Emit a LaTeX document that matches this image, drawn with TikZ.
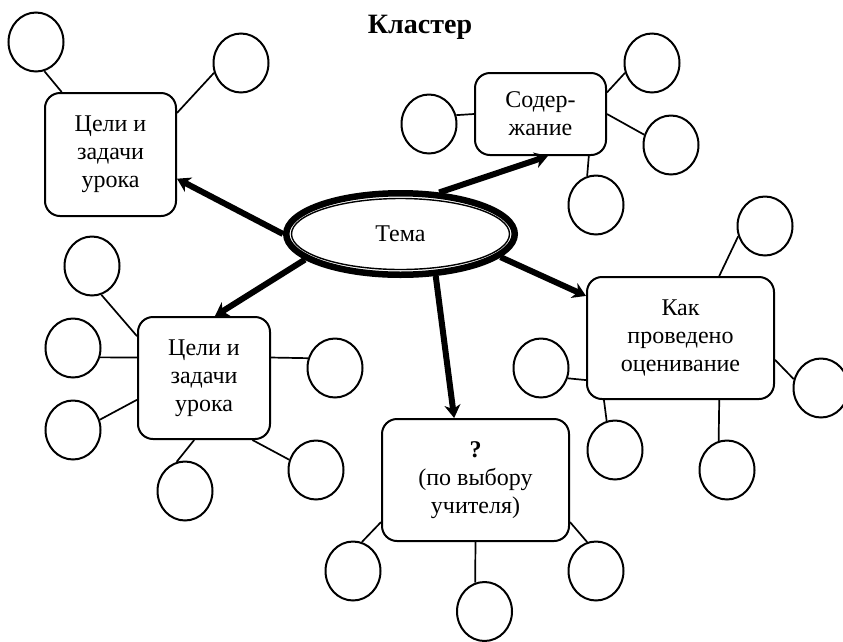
\documentclass[tikz,border=0pt]{standalone}
\usepackage{fontspec}
\setmainfont{Liberation Serif}
\usepackage{tikz}
\tikzset{box/.style={draw, line width=2pt, rounded corners=15pt, align=center, inner sep=0pt,
   font=\fontsize{24}{28}\selectfont},
 bubble/.style={draw, ellipse, line width=2pt, minimum width=55pt, minimum height=59pt, inner sep=0pt},
 link/.style={line width=1.7pt},
 arr/.style={line width=6pt, -{Stealth[length=13pt,width=16pt,inset=4pt]}},
 }
\usetikzlibrary{shapes.geometric}
\usetikzlibrary{arrows.meta}

\begin{document}
\begin{tikzpicture}[x=1pt, y=-1pt]
        \useasboundingbox (0, 0) rectangle (843, 641);
        \node [font=\bfseries\fontsize{28}{32}\selectfont, anchor=base] (title) at (420, 33) {Кластер};
        % center
        \node [draw, ellipse, line width=6.5pt, minimum width=228.5pt, minimum height=81.5pt] (tema) at (400.5, 234) {};
        \node [draw, ellipse, line width=1.4pt, minimum width=218pt, minimum height=71pt,
               font=\fontsize{24}{28}\selectfont] (temain) at (tema.center) {Тема};
        % boxes
        \node [box, minimum width=131pt, minimum height=123pt] (goals) at (110.5, 154.5) {Цели и\\задачи\\урока};
        \node [box, minimum width=131pt, minimum height=82pt] (content) at (540.5, 114) {Содер-\\жание};
        \node [box, minimum width=187pt, minimum height=122pt] (assess) at (680.5, 338) {Как\\проведено\\оценивание};
        \node [box, minimum width=187pt, minimum height=122pt] (choice) at (475.5, 480) {\textbf{?}\\(по выбору\\учителя)};
        \node [box, minimum width=132pt, minimum height=122pt] (goalsb) at (204, 378) {Цели и\\задачи\\урока};
        % circles
        \node [bubble] (goals1) at (36, 42) {};
        \node [bubble] (goals2) at (241, 63) {};
        \node [bubble] (content1) at (429, 124) {};
        \node [bubble] (content2) at (652, 63) {};
        \node [bubble] (content3) at (671, 145) {};
        \node [bubble] (content4) at (596, 205) {};
        \node [bubble] (assess1) at (765, 226) {};
        \node [bubble] (assess2) at (541, 368) {};
        \node [bubble] (assess3) at (821, 388) {};
        \node [bubble] (assess4) at (615, 450) {};
        \node [bubble] (assess5) at (727, 470) {};
        \node [bubble] (choice1) at (353, 571) {};
        \node [bubble] (choice2) at (484.5, 611.5) {};
        \node [bubble] (choice3) at (596, 571) {};
        \node [bubble] (goalsb1) at (92, 266) {};
        \node [bubble] (goalsb2) at (73, 348) {};
        \node [bubble] (goalsb3) at (73, 430) {};
        \node [bubble] (goalsb4) at (185, 491) {};
        \node [bubble] (goalsb5) at (335, 368) {};
        \node [bubble] (goalsb6) at (316, 470) {};
        % links
        \draw [link] (goals.128) -- (goals1.-74);
        \draw [link] (goals.32) -- (goals2.200);
        \draw [link] (content.west) -- (content1.18);
        \draw [link] (content.18) -- (content2.200);
        \draw [link] (content.east) -- (content3.159);
        \draw [link] (content.-41) -- (content4.107);
        \draw [link] (assess.58) -- (assess1.201);
        \draw [link] (assess.204) -- (assess2.-21);
        \draw [link] (assess.-13) -- (assess3.162);
        \draw [link] (assess.219) -- (assess4.106);
        \draw [link] (assess.-58) -- (assess5.106);
        \draw [link] (choice.204) -- (choice1.73);
        \draw [link] (choice.south) -- (choice2.108);
        \draw [link] (choice.-24) -- (choice3.107);
        \draw [link] (goalsb.148) -- (goalsb1.-72);
        \draw [link] (goalsb.163) -- (goalsb2.-19);
        \draw [link] (goalsb.198) -- (goalsb3.21);
        \draw [link] (goalsb.-99) -- (goalsb4.106);
        \draw [link] (goalsb.17) -- (goalsb5.160);
        \draw [link] (goalsb.-52) -- (goalsb6.159);
        % arrows
        \draw [arr] (tema.west) -- (goals.-20);
        \draw [arr] (tema.47) -- (content.-80);
        \draw [arr] (tema.-13) -- (assess.156);
        \draw [arr] (tema.-50) -- (choice.109);
        \draw [arr] (tema.-165) -- (goalsb.80);
    \end{tikzpicture}
\end{document}
